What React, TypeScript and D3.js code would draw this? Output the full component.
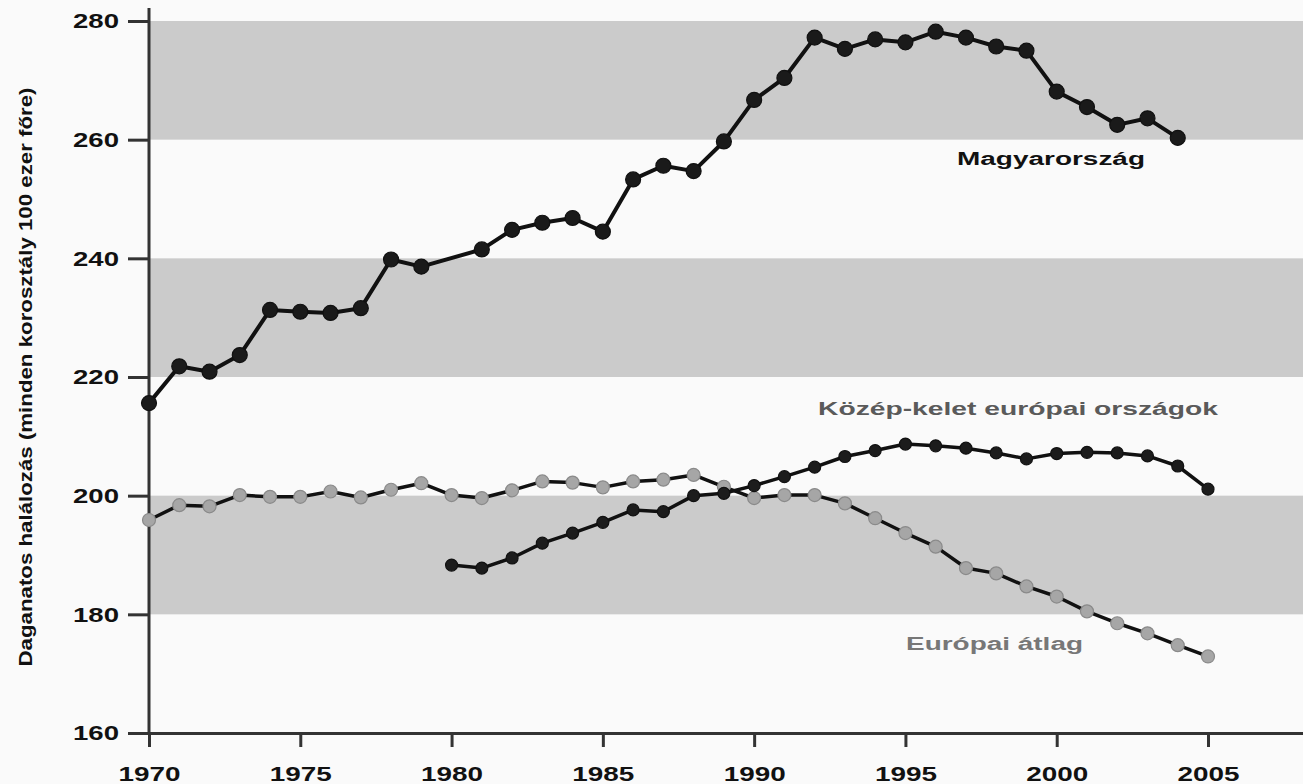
import React, { useEffect, useRef } from "react";
import * as d3 from "d3";

// years on the x axis
const years = d3.range(1970, 2006);
const xTicks = [1970, 1975, 1980, 1985, 1990, 1995, 2000, 2005];
const yTicks = [160, 180, 200, 220, 240, 260, 280];
const bands = [
  [180, 200],
  [220, 240],
  [260, 280],
];

// Magyarország (1980 marker missing in the source)
const hungary = [
  215.6, 221.8, 220.9, 223.7, 231.3, 231.0, 230.8, 231.6, 239.8, 238.6,
  null, 241.5, 244.8, 246.0, 246.8, 244.5, 253.3, 255.6, 254.7, 259.7,
  266.7, 270.4, 277.2, 275.3, 276.9, 276.4, 278.2, 277.2, 275.7, 275.0,
  268.1, 265.5, 262.5, 263.6, 260.3, null,
];

// Közép-kelet európai országok (from 1980)
const cee = [
  null, null, null, null, null, null, null, null, null, null,
  188.3, 187.8, 189.5, 192.0, 193.7, 195.5, 197.6, 197.3, 200.0, 200.4,
  201.7, 203.2, 204.8, 206.6, 207.6, 208.7, 208.4, 208.0, 207.2, 206.2,
  207.1, 207.3, 207.2, 206.7, 205.0, 201.1,
];

// Európai átlag
const euAvg = [
  195.9, 198.4, 198.2, 200.1, 199.8, 199.8, 200.7, 199.7, 201.0, 202.1,
  200.1, 199.6, 200.9, 202.4, 202.2, 201.4, 202.4, 202.7, 203.5, 201.5,
  199.6, 200.1, 200.1, 198.7, 196.2, 193.7, 191.4, 187.8, 186.9, 184.7,
  183.0, 180.5, 178.5, 176.8, 174.8, 172.9,
];

const W = 1303,
  H = 784;
const FONT = "'Liberation Sans', Arial, sans-serif";

const x = d3.scaleLinear().domain([1970, 2008.14]).range([149, W]);
const y = d3.scaleLinear().domain([160, 280]).range([733, 21]);

const toPoints = (vals) =>
  years
    .map((yr, i) => ({ yr, v: vals[i] }))
    .filter((d) => d.v != null);

const line = d3
  .line()
  .x((d) => x(d.yr))
  .y((d) => y(d.v));

const Series = ({ vals, r, fill, stroke, width }) => {
  const pts = toPoints(vals);
  return (
    <g>
      <path d={line(pts)} fill="none" stroke="#111" strokeWidth={width} strokeLinejoin="round" />
      {pts.map((d) => (
        <circle key={d.yr} cx={x(d.yr)} cy={y(d.v)} r={r} fill={fill} stroke={stroke} strokeWidth={1.2} />
      ))}
    </g>
  );
};

export default function App() {
  const xAxisRef = useRef(null);
  const yAxisRef = useRef(null);

  useEffect(() => {
    const xa = d3
      .axisBottom(x)
      .tickValues(xTicks)
      .tickSize(14)
      .tickSizeOuter(0)
      .tickPadding(20)
      .tickFormat(d3.format("d"));
    const gx = d3.select(xAxisRef.current).call(xa);
    gx.select(".domain").attr("stroke", "#333").attr("stroke-width", 3);
    gx.selectAll(".tick line").attr("stroke", "#333").attr("stroke-width", 3);
    gx.selectAll(".tick text")
      .attr("fill", "#111")
      .attr("font-size", 20)
      .attr("font-weight", "bold")
      .attr("font-family", FONT)
      .attr("textLength", 62)
      .attr("lengthAdjust", "spacingAndGlyphs");

    const ya = d3
      .axisLeft(y)
      .tickValues(yTicks)
      .tickSize(21)
      .tickSizeOuter(0)
      .tickPadding(9);
    const gy = d3.select(yAxisRef.current).call(ya);
    gy.select(".domain").remove();
    gy.selectAll(".tick line").attr("stroke", "#333").attr("stroke-width", 3);
    gy.selectAll(".tick text")
      .attr("fill", "#111")
      .attr("font-size", 21)
      .attr("font-weight", "bold")
      .attr("font-family", FONT)
      .attr("textLength", 46)
      .attr("lengthAdjust", "spacingAndGlyphs");
  }, []);

  return (
    <div style={{ position: "absolute", left: 0, top: 0 }}>
      <svg width={W} height={H} style={{ display: "block" }}>
        <rect x={0} y={0} width={W} height={H} fill="#fafafa" />
        {/* gray bands */}
        {bands.map(([a, b]) => (
          <rect key={a} x={x(1970)} y={y(b)} width={W - x(1970)} height={y(a) - y(b)} fill="#cbcbcb" />
        ))}

        <g ref={xAxisRef} transform={`translate(0,${y(160)})`} />
        <g ref={yAxisRef} transform={`translate(${x(1970)},0)`} />
        <line x1={x(1970)} x2={x(1970)} y1={8} y2={y(160) + 1} stroke="#333" strokeWidth={3} />

        <Series vals={euAvg} r={6.5} fill="#a6a6a6" stroke="#8a8a8a" width={3.5} />
        <Series vals={cee} r={6} fill="#1c1c1c" stroke="#111" width={3.5} />
        <Series vals={hungary} r={7.5} fill="#1a1a1a" stroke="#111" width={4} />

        {/* series labels */}
        <text x={957} y={165} fontFamily={FONT} fontWeight="bold" fontSize={18} fill="#111" textLength={188} lengthAdjust="spacingAndGlyphs">
          Magyarország
        </text>
        <text x={818} y={415} fontFamily={FONT} fontWeight="bold" fontSize={18} fill="#5a5a5a" textLength={400} lengthAdjust="spacingAndGlyphs">
          Közép-kelet európai országok
        </text>
        <text x={906} y={650} fontFamily={FONT} fontWeight="bold" fontSize={18} fill="#777" textLength={177} lengthAdjust="spacingAndGlyphs">
          Európai átlag
        </text>

        {/* y axis title */}
        <text
          transform={`translate(32,377) rotate(-90)`}
          textAnchor="middle"
          fontFamily={FONT}
          fontWeight="bold"
          fontSize={18}
          fill="#111"
          textLength={579}
          lengthAdjust="spacingAndGlyphs"
        >
          Daganatos halálozás (minden korosztály 100 ezer főre)
        </text>
      </svg>
    </div>
  );
}
